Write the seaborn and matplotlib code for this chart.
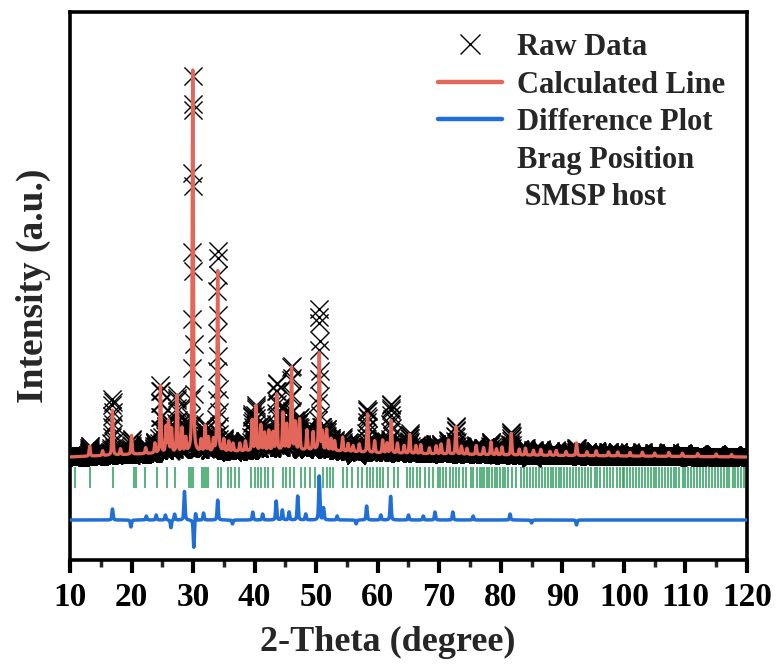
import numpy as np
import pandas as pd
import matplotlib
matplotlib.use("Agg")
import matplotlib.pyplot as plt
import seaborn as sns
from matplotlib.lines import Line2D

# ---------------- data ----------------
x_min, x_max, x_step = 10.0, 120.0, 0.035

# background knots (2-theta, counts)
bg_knot_deg = [10, 25, 40, 50, 60, 80, 100, 120]
bg_knot_cnt = [450, 550, 600, 625, 550, 500, 475, 450]

# calculated reflections: position (deg) and height above background (counts)
calc_peak_pos = [13.2, 15.3, 16.9, 18.2, 20.0, 22.3, 23.8, 24.7, 25.6, 26.0,
                 26.5, 27.4, 28.2, 28.8, 29.95, 31.3, 31.95, 32.5, 33.3, 34.0,
                 35.0, 35.8, 36.5, 37.6, 38.5, 39.6, 40.2, 41.0, 41.6, 42.3,
                 43.0, 43.6, 44.6, 45.2, 46.0, 46.6, 47.3, 48.5, 49.5, 50.5,
                 51.0, 51.7, 52.4, 53.0, 54.3, 55.2, 56.0, 57.0, 58.35, 59.5,
                 60.8, 61.5, 62.2, 63.2, 64.3, 65.2, 66.2, 67.0, 68.4, 69.5,
                 70.3, 71.5, 72.7, 73.6, 74.5, 76.0, 77.2, 78.4, 79.3, 80.2,
                 81.7, 83.0, 84.0, 85.3, 86.5, 88.0, 89.0, 90.6, 92.3, 94.0,
                 95.5, 97.5, 99.0, 101.0, 103.0, 105.0, 107.3, 109.5, 112.0,
                 115.0, 117.5]
calc_peak_height = [250, 120, 1125, 150, 475, 150, 250, 1675, 650, 775,
                    600, 1425, 600, 350, 9550, 300, 650, 350, 300, 4550,
                    300, 250, 200, 200, 250, 775, 1125, 650, 450, 500,
                    450, 1400, 950, 650, 2100, 700, 775, 500, 450, 2425,
                    450, 525, 300, 250, 350, 200, 150, 200, 975, 300,
                    325, 250, 825, 250, 200, 475, 200, 225, 150, 200,
                    250, 350, 700, 200, 150, 225, 175, 325, 150, 200,
                    550, 150, 175, 125, 150, 100, 125, 100, 325, 100,
                    125, 100, 100, 90, 100, 80, 100, 80, 75,
                    70, 60]

# observed - calculated misfit features (deg, counts)
diff_peak_pos = [16.9, 19.9, 22.4, 24.0, 25.5, 26.4, 27.0, 28.6, 30.12, 30.4,
                 31.7, 34.0, 36.4, 39.7, 41.3, 43.5, 44.5, 45.6, 47.0, 48.3,
                 50.5, 51.2, 53.4, 56.5, 58.2, 60.5, 62.1, 65.0, 67.4, 69.3,
                 72.2, 75.5, 81.5, 85.0, 92.3]
diff_peak_amp = [275, -175, 100, 125, 125, -200, 150, 725, -700, 200,
                 175, 500, -100, 200, 150, 475, 250, 200, 600, 150,
                 1100, 300, 100, -100, 350, 125, 600, 125, 100, 200,
                 200, 100, 150, -75, -125]

# Bragg reflection positions of the SMSP host (deg)
bragg_pos = [10.76, 13.2, 17.0, 20.4, 20.7, 22.2, 24.1, 25.8, 27.1, 29.3,
             29.7, 30.05, 31.4, 31.7, 32.05, 32.4, 34.1, 34.55, 35.6, 36.1,
             36.8, 37.5, 39.45, 40.0,
             40.54, 40.98, 41.63, 42.17, 42.99, 44.62, 45.16, 45.70, 46.41, 47.60,
             48.15, 48.96, 49.78, 51.14, 51.68, 52.22, 52.76, 54.39, 54.94, 55.75,
             56.84, 57.38, 58.20, 58.74, 59.28, 59.83, 60.37, 60.91, 61.73, 62.71,
             63.36, 64.72, 65.26, 65.80, 66.34, 66.89, 67.70, 68.25, 69.06, 69.77,
             70.19, 70.68, 71.16, 71.76, 72.20, 72.79, 73.23, 73.88, 74.32, 75.13,
             75.56, 76.05, 76.54, 76.87, 77.30, 77.68, 78.12, 78.50, 78.99, 79.42,
             79.80, 80.29, 80.72, 81.21, 81.81, 82.46, 83.22, 83.82, 84.20, 84.74,
             85.18, 85.78, 86.16, 86.70, 87.19, 87.73, 88.17, 88.55, 88.98, 89.47,
             89.85, 90.34, 90.77, 91.26, 91.75, 92.24, 92.68, 93.22, 93.71, 94.20,
             94.68, 95.23, 95.66, 96.15, 96.69, 97.18, 97.78, 98.21, 98.81, 99.30,
             99.84, 100.06, 100.55, 100.99, 101.53, 102.02, 102.45, 102.89, 103.43,
             103.87, 104.36, 104.84, 105.28, 105.71, 106.20, 106.69, 107.23, 107.67,
             108.10, 108.54, 109.03, 109.52, 109.95, 110.39, 110.93, 111.42, 111.91,
             112.34, 112.83, 113.32, 113.86, 114.30, 114.78, 115.27, 115.71, 116.20,
             116.69, 117.12, 117.66, 118.10, 118.59, 119.08, 119.51, 119.95]

x_ticks = [10, 20, 30, 40, 50, 60, 70, 80, 90, 100, 110, 120]
legend_labels = ["Raw Data", "Calculated Line", "Difference Plot",
                 "Brag Position", " SMSP host"]

# offsets of the stacked sub-plots (counts)
diff_offset = -1125
bragg_lo, bragg_hi = -325, 200
y_lo, y_hi = -2125, 11575

# ---------------- build profiles ----------------
FWHM = 0.22
ETA = 0.45


def pseudo_voigt(x, x0, h):
    d2 = 4.0 * (x - x0) ** 2 / FWHM ** 2
    return h * (ETA / (1.0 + d2) + (1 - ETA) * np.exp(-np.log(2) * d2))


tt = np.arange(x_min, x_max + 1e-9, x_step)
bg = np.interp(tt, bg_knot_deg, bg_knot_cnt)
calc = bg.copy()
for p, h in zip(calc_peak_pos, calc_peak_height):
    calc += pseudo_voigt(tt, p, h)
misfit = np.zeros_like(tt)
for p, a in zip(diff_peak_pos, diff_peak_amp):
    misfit += pseudo_voigt(tt, p, a)
raw = calc + misfit

df = pd.DataFrame({"tt": tt, "raw": raw, "calc": calc,
                   "diff": misfit + diff_offset})

# ---------------- plot ----------------
sns.set_theme(style="ticks")
plt.rcParams["font.family"] = ["Liberation Serif", "DejaVu Serif"]
plt.rcParams["font.weight"] = "bold"

fig = plt.figure(figsize=(7.76, 6.66), dpi=100)
ax = fig.add_axes([70 / 776, 1 - 560 / 666, 677 / 776, 548 / 666])

red = "#E2675A"
blue = "#1F6FD6"
green = "#2A9F5C"

sns.scatterplot(data=df, x="tt", y="raw", ax=ax, marker="x", s=170,
                color="black", linewidth=1.0, legend=False, zorder=2)
sns.lineplot(data=df, x="tt", y="calc", ax=ax, color=red, linewidth=2.4,
             estimator=None, sort=False, legend=False, zorder=3)
ax.vlines(bragg_pos, bragg_lo, bragg_hi, color=green, linewidth=1.3,
          alpha=0.85, zorder=2)
sns.lineplot(data=df, x="tt", y="diff", ax=ax, color=blue, linewidth=2.5,
             estimator=None, sort=False, legend=False, zorder=3)

ax.set_xlim(x_min, x_max)
ax.set_ylim(y_lo, y_hi)
ax.set_xticks(x_ticks)
ax.set_xticklabels([str(v) for v in x_ticks])
ax.set_xticks(np.array(x_ticks[:-1]) + 5, minor=True)
ax.set_yticks([])
ax.tick_params(axis="x", which="major", direction="out", length=9, width=3.0,
               labelsize=24, pad=7, colors="black")
ax.tick_params(axis="x", which="minor", direction="out", length=5, width=2.5)
for s in ax.spines.values():
    s.set_linewidth(2.6)
    s.set_color("black")
    s.set_visible(True)

ax.set_xlabel("2-Theta (degree)", fontsize=26, fontweight="bold")
ax.xaxis.set_label_coords((388 - 70) / 677, (560 - 626) / 548)
ax.set_ylabel("Intensity (a.u.)", fontsize=27, fontweight="bold", labelpad=14)

handles = [
    Line2D([], [], marker="x", linestyle="none", color="black", markersize=15,
           markeredgewidth=1.0),
    Line2D([], [], color=red, linewidth=3.2),
    Line2D([], [], color=blue, linewidth=3.2),
    Line2D([], [], linestyle="none"),
    Line2D([], [], linestyle="none"),
]
leg = ax.legend(handles, legend_labels, loc="upper left",
                bbox_to_anchor=(438 / 776, 1 - 33 / 666),
                bbox_transform=fig.transFigure, frameon=False,
                prop={"family": "Liberation Serif", "weight": "bold", "size": 22},
                handlelength=2.1, handletextpad=0.5, labelspacing=0.28,
                borderpad=0, borderaxespad=0)

fig.savefig("out.png", dpi=100)
